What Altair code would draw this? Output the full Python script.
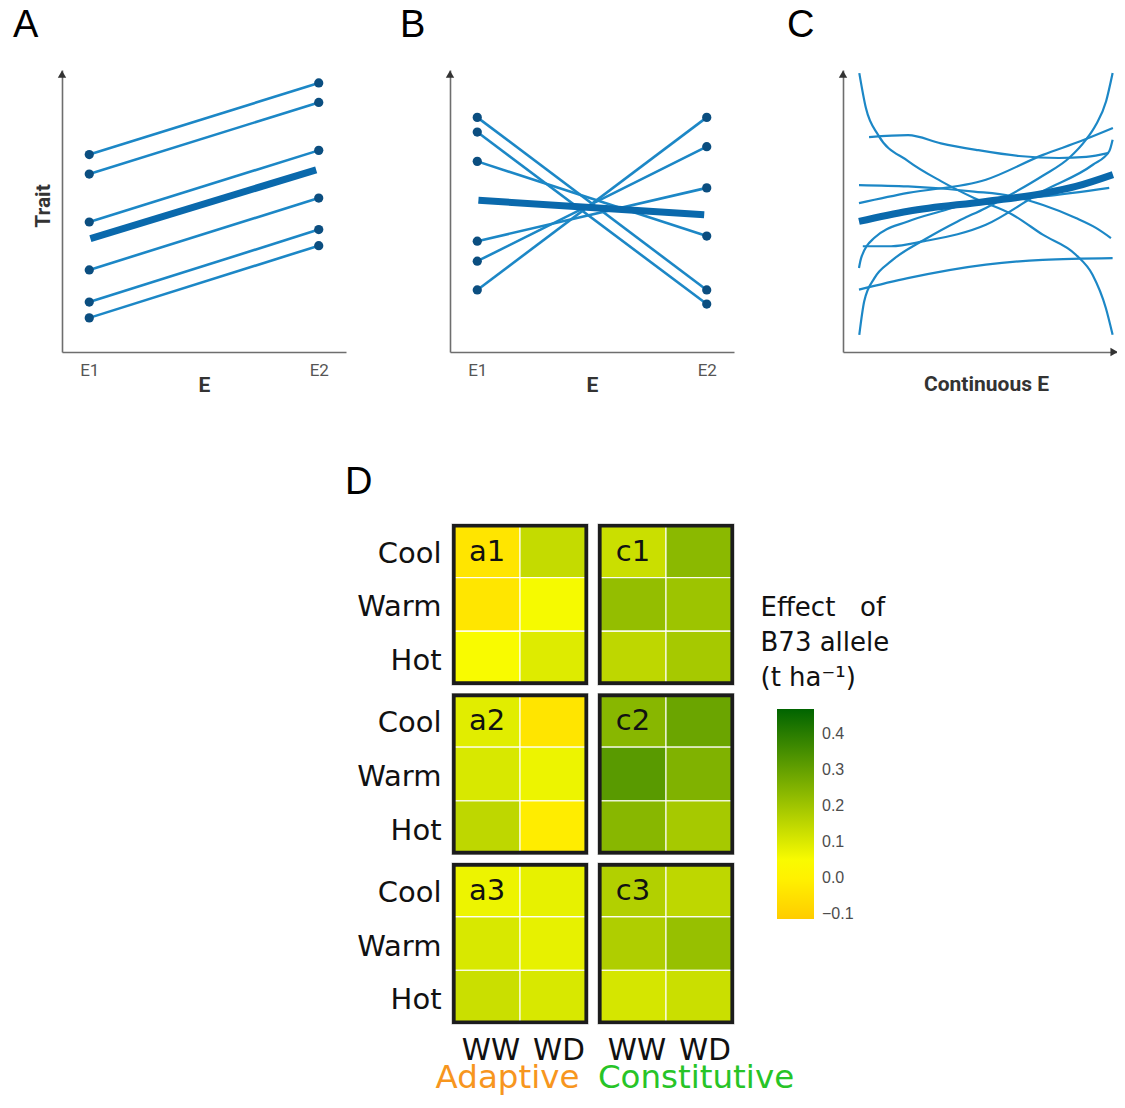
import altair as alt
import pandas as pd

# ---------------- Panel A: parallel reaction norms (0-100 schematic units) ----------------
E_POS = [9.6, 90.4]
E_LABELS = ["E1", "E2"]
A_E1 = [70.0, 63.1, 46.1, 29.1, 17.7, 12.1]
A_E2 = [95.4, 88.5, 71.5, 54.6, 43.4, 37.7]
A_MEAN_X = [10.0, 89.5]
A_MEAN_Y = [40.2, 64.6]

# ---------------- Panel B: crossing reaction norms ----------------
B_E1 = [83.2, 78.0, 67.6, 39.3, 32.2, 22.0]
B_E2 = [22.0, 17.0, 41.1, 58.2, 72.8, 83.2]
B_MEAN_X = [10.0, 89.5]
B_MEAN_Y = [53.8, 48.7]

# ---------------- Panel C: continuous reaction norms ----------------
C1_X = [5.76, 8.1, 12.4, 23.0, 34.6, 46.3, 60.1, 70.6, 82.3, 88.2, 92.9, 95.3]
C1_Y = [98.9, 86.5, 77.0, 67.7, 60.6, 54.6, 48.6, 41.6, 34.5, 27.4, 15.6, 6.1]
C2_X = [5.76, 7.5, 11.1, 17.0, 28.7, 40.5, 50.5, 58.7, 70.6, 79.9, 85.9, 89.4, 93.0, 95.3]
C2_Y = [6.1, 18.0, 26.2, 32.2, 39.8, 46.3, 51.1, 55.5, 62.5, 68.8, 75.3, 80.6, 88.9, 98.9]
C3_X = [9.2, 23.0, 34.6, 47.0, 62.2, 76.3, 86.0, 94.0]
C3_Y = [76.2, 76.9, 74.0, 71.7, 69.5, 68.8, 69.2, 70.6]
C4_X = [5.65, 23.0, 46.3, 59.4, 70.7, 82.3, 89.4, 94.7]
C4_Y = [59.2, 58.7, 56.9, 55.3, 52.1, 47.5, 44.0, 40.4]
C5_X = [5.65, 23.0, 50.5, 70.7, 84.1, 95.4]
C5_Y = [52.8, 56.4, 61.1, 69.9, 74.8, 79.4]
C6_X = [7.0, 17.0, 28.7, 50.5, 70.6, 88.3, 94.1, 95.3]
C6_Y = [37.5, 37.5, 39.3, 45.1, 57.0, 66.4, 71.2, 75.3]
C7_X = [5.65, 6.4, 11.0, 22.9, 34.6, 50.5, 70.6, 94.1]
C7_Y = [29.8, 33.3, 40.4, 46.3, 49.9, 54.0, 55.2, 58.2]
C8_X = [5.65, 22.9, 50.5, 70.6, 95.3]
C8_Y = [22.1, 26.2, 31.0, 32.7, 33.3]
C_MEAN_X = [5.65, 23.0, 50.5, 70.7, 82.3, 95.4]
C_MEAN_Y = [46.3, 49.9, 53.4, 56.2, 58.7, 62.9]
C_X_MAX = 97.2

ARROW_UP_Y = 98.5
ARROW_RIGHT_X = 95.8

# ---------------- Panel D: effect of B73 allele (t/ha) ----------------
CONDS = ["Cool", "Warm", "Hot"]
WATER = ["WW", "WD"]
BLOCK_TAGS = [["a1", "c1"], ["a2", "c2"], ["a3", "c3"]]
# order in each list: Cool-WW, Cool-WD, Warm-WW, Warm-WD, Hot-WW, Hot-WD
A1 = [-0.04, 0.14, -0.035, 0.055, 0.05, 0.095]
C1 = [0.13, 0.235, 0.22, 0.205, 0.15, 0.19]
A2 = [0.09, -0.04, 0.105, 0.07, 0.15, -0.015]
C2 = [0.24, 0.29, 0.32, 0.255, 0.24, 0.19]
A3 = [0.07, 0.08, 0.105, 0.08, 0.13, 0.105]
C3 = [0.17, 0.15, 0.175, 0.215, 0.11, 0.13]
TYPE_LABELS = ["Adaptive", "Constitutive"]
TYPE_COLORS = ["#f7961e", "#27c427"]
LEGEND_VALUES = [-0.1, 0.0, 0.1, 0.2, 0.3, 0.4]
LEGEND_TITLE = "Effect\u00a0\u00a0\u00a0of\nB73 allele\n(t ha\u207b\u00b9)"
COLOR_DOMAIN = [-0.114, 0.04, 0.47]
COLOR_RANGE = ["#ffcc00", "#ffff00", "#006400"]

THIN = "#1c87c6"
THICK = "#0a69ac"
DOT = "#0b4e80"
AXIS_GREY = "#6e6e6e"

W_TOP, H_TOP, W_C = 284, 282, 275
ROW_GAP = 172
# heat-map layout in cell units (one cell = 1 x 1)
X_STEP, Y_STEP = 2.147, 3.161          # block pitch (2x3 cells + gap)
X_MIN, X_MAX = -0.03, 4.147
Y_MAX = 2 * Y_STEP + 3
W_HEAT, H_HEAT = 284, 500
INSET_X, INSET_Y = 0.0265, 0.0335      # half of the border stroke, in cell units


def letter(txt, dx, dy):
    return alt.Chart(pd.DataFrame({"t": [txt]})).mark_text(
        font="Liberation Sans", fontSize=38, color="#000", align="left",
        baseline="alphabetic").encode(x=alt.value(dx), y=alt.value(dy), text="t:N")


def reaction_panel(e1, e2, mx, my, tag, dx, ytitle):
    rows = []
    for i, (a, b) in enumerate(zip(e1, e2)):
        rows.append({"id": i, "x": E_POS[0], "y": a})
        rows.append({"id": i, "x": E_POS[1], "y": b})
    df = pd.DataFrame(rows)
    mean_df = pd.DataFrame({"x": mx, "y": my})
    arrow_df = pd.DataFrame({"x": [0.0], "y": [ARROW_UP_Y]})
    label_expr = f"datum.value < 50 ? '{E_LABELS[0]}' : '{E_LABELS[1]}'"
    X = alt.X("x:Q", scale=alt.Scale(domain=[0, 100], nice=False, zero=False),
              axis=alt.Axis(values=E_POS, labelExpr=label_expr, title="E", titleY=39.5,
                            titleBaseline="alphabetic"))
    if ytitle:
        yaxis = alt.Axis(labels=False, title=ytitle, titleX=-19, titleY=135.5, titleAngle=270,
                         titleBaseline="middle", titleAlign="center")
    else:
        yaxis = alt.Axis(labels=False, title=None)
    Y = alt.Y("y:Q", scale=alt.Scale(domain=[0, 100], nice=False, zero=False), axis=yaxis)
    lines = alt.Chart(df).mark_line(color=THIN, strokeWidth=2.6).encode(x=X, y=Y, detail="id:N")
    pts = alt.Chart(df).mark_circle(color=DOT, size=85, opacity=1).encode(x=X, y=Y)
    mean = alt.Chart(mean_df).mark_line(color=THICK, strokeWidth=7).encode(x=X, y=Y)
    arrow = alt.Chart(arrow_df).mark_point(shape="triangle-up", filled=True, size=70,
                                           color="#333", opacity=1).encode(x=X, y=Y)
    return alt.layer(lines, mean, pts, arrow, letter(tag, dx, -33)).properties(
        width=W_TOP, height=H_TOP)


panel_a = reaction_panel(A_E1, A_E2, A_MEAN_X, A_MEAN_Y, "A", -49, "Trait")
panel_b = reaction_panel(B_E1, B_E2, B_MEAN_X, B_MEAN_Y, "B", -50, None)

# ---------------- Panel C ----------------
curves = [(C1_X, C1_Y), (C2_X, C2_Y), (C3_X, C3_Y), (C4_X, C4_Y), (C5_X, C5_Y),
          (C6_X, C6_Y), (C7_X, C7_Y), (C8_X, C8_Y)]
c_rows = []
for i, (xs, ys) in enumerate(curves):
    for xv, yv in zip(xs, ys):
        c_rows.append({"id": i, "x": xv, "y": yv})
c_df = pd.DataFrame(c_rows)
c_mean_df = pd.DataFrame({"x": C_MEAN_X, "y": C_MEAN_Y})
c_arrows = pd.DataFrame({"x": [0.0, ARROW_RIGHT_X], "y": [ARROW_UP_Y, 0.0],
                         "shape": ["triangle-up", "triangle-right"]})
XC = alt.X("x:Q", scale=alt.Scale(domain=[0, C_X_MAX], nice=False, zero=False),
           axis=alt.Axis(labels=False, title="Continuous E", titleX=143, titleY=38.5,
                         titleBaseline="alphabetic", titleAlign="center"))
YC = alt.Y("y:Q", scale=alt.Scale(domain=[0, 100], nice=False, zero=False),
           axis=alt.Axis(labels=False, title=None))
c_lines = alt.Chart(c_df).mark_line(color=THIN, strokeWidth=2.2, interpolate="monotone").encode(
    x=XC, y=YC, detail="id:N")
c_mean = alt.Chart(c_mean_df).mark_line(color=THICK, strokeWidth=7, interpolate="monotone").encode(
    x=XC, y=YC)
c_arrow = alt.Chart(c_arrows).mark_point(filled=True, size=70, color="#333", opacity=1).encode(
    x=XC, y=YC, shape=alt.Shape("shape:N", scale=None))
panel_c = alt.layer(c_lines, c_mean, c_arrow, letter("C", -56, -33)).properties(
    width=W_C, height=H_TOP)

# ---------------- Panel D (one chart, blocks laid out by index) ----------------
block_vals = [[A1, C1], [A2, C2], [A3, C3]]
cell_rows, block_rows, tag_rows, row_lab_rows, col_lab_rows = [], [], [], [], []
for r in range(3):
    for k in range(2):
        vals = block_vals[r][k]
        for j, cond in enumerate(CONDS):
            for w, water in enumerate(WATER):
                x0 = k * X_STEP + w
                y0 = r * Y_STEP + j
                cell_rows.append({"x0": x0, "x1": x0 + 1, "y0": y0, "y1": y0 + 1,
                                  "value": vals[j * 2 + w]})
        block_rows.append({"x0": k * X_STEP, "x1": k * X_STEP + 2,
                           "y0": r * Y_STEP, "y1": r * Y_STEP + 3,
                           "bx0": k * X_STEP + INSET_X, "bx1": k * X_STEP + 2 - INSET_X,
                           "by0": r * Y_STEP + INSET_Y, "by1": r * Y_STEP + 3 - INSET_Y})
        tag_rows.append({"x": k * X_STEP + 0.5, "y": r * Y_STEP + 0.5, "t": BLOCK_TAGS[r][k]})
    for j, cond in enumerate(CONDS):
        row_lab_rows.append({"x": X_MIN, "y": r * Y_STEP + j + 0.5, "t": cond})
for k in range(2):
    for w, water in enumerate(WATER):
        col_lab_rows.append({"x": k * X_STEP + w + 0.5, "y": Y_MAX, "t": water})

HX = alt.Scale(domain=[X_MIN, X_MAX], nice=False, zero=False)
HY = alt.Scale(domain=[0, Y_MAX], nice=False, zero=False, reverse=True)
CSCALE = alt.Scale(domain=COLOR_DOMAIN, range=COLOR_RANGE, interpolate="rgb")
LEGEND = alt.Legend(
    orient="none", legendX=715, legendY=639, direction="vertical", title=None,
    gradientLength=210, gradientThickness=37, gradientStrokeWidth=0,
    values=LEGEND_VALUES, format=".1f", labelFont="Liberation Sans", labelFontSize=16,
    labelColor="#4d4d4d", labelOffset=8, padding=0)

cells_df = pd.DataFrame(cell_rows)
blocks_df = pd.DataFrame(block_rows)
heat_cells = alt.Chart(cells_df).mark_rect(stroke="white", strokeWidth=1.3, strokeOpacity=0.85).encode(
    x=alt.X("x0:Q", scale=HX, axis=None), x2="x1:Q",
    y=alt.Y("y0:Q", scale=HY, axis=None), y2="y1:Q",
    color=alt.Color("value:Q", scale=CSCALE, legend=LEGEND))
halo = alt.Chart(blocks_df).mark_rect(fill="transparent", stroke="#9a9a9a", strokeWidth=1.2,
                                      strokeOpacity=0.7).encode(
    x=alt.X("x0:Q", scale=HX, axis=None), x2="x1:Q",
    y=alt.Y("y0:Q", scale=HY, axis=None), y2="y1:Q")
borders = alt.Chart(blocks_df).mark_rect(fill="transparent", stroke="#1c1c1c",
                                         strokeWidth=3.6).encode(
    x=alt.X("bx0:Q", scale=HX, axis=None), x2="bx1:Q",
    y=alt.Y("by0:Q", scale=HY, axis=None), y2="by1:Q")
tags = alt.Chart(pd.DataFrame(tag_rows)).mark_text(
    font="DejaVu Sans", fontSize=29, color="#111", dx=1, dy=1).encode(
    x=alt.X("x:Q", scale=HX, axis=None), y=alt.Y("y:Q", scale=HY, axis=None), text="t:N")
row_labels = alt.Chart(pd.DataFrame(row_lab_rows)).mark_text(
    font="DejaVu Sans", fontSize=29, color="#111", align="right", dx=-8.5, dy=3).encode(
    x=alt.X("x:Q", scale=HX, axis=None), y=alt.Y("y:Q", scale=HY, axis=None), text="t:N")
col_labels = alt.Chart(pd.DataFrame(col_lab_rows)).mark_text(
    font="DejaVu Sans", fontSize=29.5, color="#111", baseline="alphabetic", dx=5, dy=36).encode(
    x=alt.X("x:Q", scale=HX, axis=None), y=alt.Y("y:Q", scale=HY, axis=None), text="t:N")
type_layers = []
for k, (lab, col, shift) in enumerate(zip(TYPE_LABELS, TYPE_COLORS, [-12.5, 30])):
    type_layers.append(alt.Chart(pd.DataFrame({"x": [k * X_STEP + 1], "y": [Y_MAX], "t": [lab]}))
                       .mark_text(font="DejaVu Sans", fontSize=32.5, color=col,
                                  baseline="alphabetic", dx=shift, dy=63.5)
                       .encode(x=alt.X("x:Q", scale=HX, axis=None),
                               y=alt.Y("y:Q", scale=HY, axis=None), text="t:N"))
legend_title = alt.Chart(pd.DataFrame({"x": [X_MAX], "y": [0.0], "t": [LEGEND_TITLE]})).mark_text(
    font="DejaVu Sans", fontSize=26, color="#111", align="left", baseline="alphabetic",
    lineBreak="\n", lineHeight=35, dx=26.5, dy=91.7).encode(
    x=alt.X("x:Q", scale=HX, axis=None), y=alt.Y("y:Q", scale=HY, axis=None), text="t:N")
d_letter = alt.Chart(pd.DataFrame({"x": [X_MIN], "y": [0.0], "t": ["D"]})).mark_text(
    font="Liberation Sans", fontSize=38, color="#000", align="left", baseline="alphabetic",
    dx=-105, dy=-30).encode(
    x=alt.X("x:Q", scale=HX, axis=None), y=alt.Y("y:Q", scale=HY, axis=None), text="t:N")

panel_d = alt.layer(heat_cells, halo, borders, tags, row_labels, col_labels, *type_layers,
                    legend_title, d_letter).properties(width=W_HEAT, height=H_HEAT)


def spacer(w, h):
    return alt.Chart(pd.DataFrame({"s": [0]})).mark_point(opacity=0).encode(
        x=alt.value(0), y=alt.value(0)).properties(width=w, height=h)


cells = [
    panel_a, spacer(104, H_TOP), panel_b, spacer(109, H_TOP), panel_c,
    spacer(1, ROW_GAP), spacer(1, ROW_GAP), spacer(1, ROW_GAP), spacer(1, ROW_GAP), spacer(1, ROW_GAP),
    spacer(1, H_HEAT), spacer(1, H_HEAT), panel_d, spacer(1, H_HEAT), spacer(1, H_HEAT),
]

chart = alt.concat(*cells, columns=5, spacing=0, bounds="flush").properties(
    padding={"left": 4, "top": -2, "right": -11, "bottom": 0}
).configure_view(stroke="transparent").configure_axis(
    grid=False, ticks=False, domainColor=AXIS_GREY, domainWidth=1.6,
    labelFont="Roboto", labelFontSize=17, labelColor="#555", labelPadding=10,
    titleFont="Roboto", titleFontSize=21, titleFontWeight="bold", titleColor="#333")

chart.save("out.html", embed_options={"renderer": "svg", "actions": False})
